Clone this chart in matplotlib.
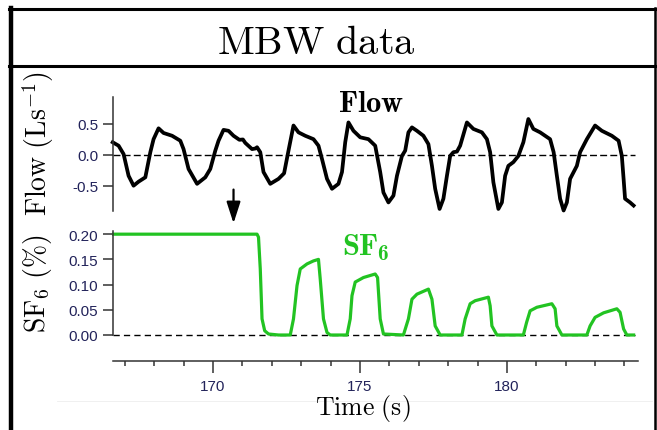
import matplotlib
matplotlib.use("Agg")
import matplotlib.pyplot as plt
from matplotlib.lines import Line2D
from matplotlib.ticker import FixedLocator, FixedFormatter, MultipleLocator

plt.rcParams["mathtext.fontset"] = "cm"

# flow trace (L/s)
flow_t = [166.59, 166.79, 166.96, 167.13, 167.30, 167.47, 167.70, 167.87, 167.98, 168.15,
          168.32, 168.61, 168.89, 169.00, 169.17, 169.46, 169.74, 169.91, 170.08, 170.19,
          170.36, 170.53, 170.70, 170.90, 171.02, 171.10, 171.33, 171.45, 171.50, 171.61,
          171.72, 171.95, 172.23, 172.42, 172.57, 172.74, 172.91, 173.14, 173.42, 173.59,
          173.71, 173.88, 174.05, 174.27, 174.39, 174.50, 174.61, 174.78, 175.01, 175.29,
          175.52, 175.69, 175.80, 175.97, 176.14, 176.26, 176.43, 176.54, 176.65, 176.77,
          176.94, 177.16, 177.33, 177.45, 177.56, 177.71, 177.84, 177.96, 178.07, 178.18,
          178.30, 178.41, 178.64, 178.86, 179.15, 179.32, 179.43, 179.54, 179.71, 179.83,
          179.94, 180.05, 180.22, 180.39, 180.56, 180.73, 180.90, 181.13, 181.47, 181.59,
          181.70, 181.81, 181.93, 182.04, 182.15, 182.38, 182.49, 182.72, 183.00, 183.23,
          183.57, 183.80, 183.91, 183.97, 184.02, 184.19, 184.31]
flow_v = [0.20, 0.145, 0.01, -0.34, -0.50, -0.435, -0.365, 0.04, 0.25, 0.425,
          0.35, 0.305, 0.225, 0.09, -0.23, -0.47, -0.365, -0.23, 0.065, 0.225,
          0.40, 0.385, 0.305, 0.24, 0.245, 0.19, 0.09, 0.10, 0.12, 0.04,
          -0.28, -0.47, -0.39, -0.30, 0.065, 0.47, 0.36, 0.305, 0.25, 0.145,
          -0.07, -0.39, -0.55, -0.47, -0.28, 0.20, 0.52, 0.385, 0.28, 0.25,
          0.145, -0.28, -0.61, -0.77, -0.66, -0.34, -0.02, 0.065, 0.36, 0.44,
          0.385, 0.305, 0.17, -0.18, -0.55, -0.875, -0.71, -0.34, -0.02, 0.04,
          0.05, 0.145, 0.52, 0.415, 0.36, 0.25, 0.04, -0.445, -0.875, -0.77,
          -0.34, -0.18, -0.12, -0.02, 0.20, 0.575, 0.415, 0.36, 0.25, 0.04,
          -0.34, -0.71, -0.90, -0.77, -0.39, -0.18, 0.04, 0.25, 0.47, 0.385,
          0.305, 0.225, -0.02, -0.39, -0.71, -0.77, -0.82]

# SF6 concentration (%)
sf6_t = [166.62, 171.50, 171.55, 171.61, 171.67, 171.76, 171.89, 172.23, 172.63, 172.74,
         172.86, 172.97, 173.20, 173.42, 173.59, 173.65, 173.76, 173.88, 173.99, 174.56,
         174.67, 174.73, 174.84, 175.12, 175.52, 175.60, 175.69, 175.80, 176.48, 176.65,
         176.77, 176.94, 177.33, 177.45, 177.56, 177.73, 178.47, 178.58, 178.75, 178.92,
         179.37, 179.43, 179.49, 179.66, 180.56, 180.67, 180.79, 181.02, 181.53, 181.64,
         181.70, 181.87, 182.72, 182.83, 183.00, 183.29, 183.74, 183.85, 183.97, 184.08,
         184.31]
sf6_v = [0.200, 0.200, 0.194, 0.131, 0.032, 0.0085, 0.002, 0.0, 0.0, 0.032,
         0.098, 0.131, 0.141, 0.147, 0.150, 0.111, 0.032, 0.005, 0.0, 0.0,
         0.032, 0.078, 0.105, 0.114, 0.121, 0.114, 0.032, 0.002, 0.0, 0.032,
         0.071, 0.081, 0.091, 0.071, 0.018, 0.0, 0.0, 0.032, 0.062, 0.068,
         0.075, 0.058, 0.018, 0.0, 0.0, 0.025, 0.048, 0.055, 0.062, 0.052,
         0.018, 0.0, 0.0, 0.018, 0.035, 0.044, 0.052, 0.045, 0.012, 0.0,
         0.0]

flow_ticks = [-0.5, 0.0, 0.5]
flow_ticklabels = ["-0.5", "0.0", "0.5"]
sf6_ticks = [0.0, 0.05, 0.10, 0.15, 0.20]
sf6_ticklabels = ["0.00", "0.05", "0.10", "0.15", "0.20"]
time_ticks = [170, 175, 180]
time_ticklabels = ["170", "175", "180"]
t_range = (166.6, 184.46)
arrow_t = 170.7

W, H = 657, 431
GREEN = "#22c322"
TICKCOL = "#22235a"
SPINE = "#333333"


def box(l, t, r, b):
    return [l / W, 1 - b / H, (r - l) / W, (b - t) / H]


def fx(x):
    return x / W


def fy(y):
    return 1 - y / H


fig = plt.figure(figsize=(W / 100, H / 100), dpi=100)

tick_font = dict(family="Liberation Sans", size=11, color=TICKCOL)

# flow panel
ax1 = fig.add_axes(box(113, 98, 638, 212))
ax1.plot(flow_t, flow_v, color="black", lw=2.7, clip_on=False, solid_joinstyle="round")
ax1.axhline(0, color="black", lw=1.0, ls=(0, (5, 2.3)), xmin=0, xmax=0.995, clip_on=False)
ax1.set_xlim(*t_range)
ax1.set_ylim(-0.908, 0.93)

# SF6 panel
ax2 = fig.add_axes(box(113, 232, 638, 336))
ax2.axhline(0, color="black", lw=1.0, ls=(0, (4.5, 3)), xmin=0, xmax=0.995, clip_on=False)
ax2.plot(sf6_t, sf6_v, color=GREEN, lw=2.3, clip_on=False, solid_joinstyle="round")
ax2.set_xlim(*t_range)
ax2.set_ylim(0, 0.2063)

for ax, ticks, labels in [(ax1, flow_ticks, flow_ticklabels), (ax2, sf6_ticks, sf6_ticklabels)]:
    for s in ["top", "right", "bottom"]:
        ax.spines[s].set_visible(False)
    ax.spines["left"].set_color(SPINE)
    ax.spines["left"].set_linewidth(1.1)
    ax.set_facecolor("none")
    ax.set_xticks([])
    ax.yaxis.set_major_locator(FixedLocator(ticks))
    ax.yaxis.set_major_formatter(FixedFormatter(labels))
    ax.tick_params(axis="y", direction="out", length=7.2, width=1.1, color=SPINE, pad=3.5)
    for lab in ax.get_yticklabels():
        lab.set(**tick_font)

# time axis
ax3 = fig.add_axes(box(113, 340, 638, 361.7))
ax3.set_facecolor("none")
for s in ["top", "right", "left"]:
    ax3.spines[s].set_visible(False)
ax3.spines["bottom"].set_color(SPINE)
ax3.spines["bottom"].set_linewidth(1.1)
ax3.set_yticks([])
ax3.set_xlim(*t_range)
ax3.xaxis.set_major_locator(FixedLocator(time_ticks))
ax3.xaxis.set_major_formatter(FixedFormatter(time_ticklabels))
ax3.xaxis.set_minor_locator(MultipleLocator(1))
ax3.tick_params(axis="x", which="major", direction="out", length=8.4, width=1.1, color=SPINE, pad=5)
ax3.tick_params(axis="x", which="minor", direction="out", length=3.6, width=1.1, color=SPINE)
for lab in ax3.get_xticklabels():
    lab.set(**tick_font)

# arrow marking the washout start
ax2.annotate("", xy=(arrow_t, 0.216), xytext=(arrow_t, 0.294),
             arrowprops=dict(arrowstyle="-|>,head_length=1.3,head_width=0.42",
                             color="black", lw=1.6, mutation_scale=10),
             annotation_clip=False)

# texts
fig.text(fx(316), fy(43), r"$\mathrm{MBW\ data}$", fontsize=29, ha="center", va="center")
fig.text(fx(38), fy(144), r"$\mathrm{Flow\ (Ls^{-1})}$", fontsize=20, rotation=90,
         ha="center", va="center")
fig.text(fx(38), fy(284), r"$\mathrm{SF_6\ (\%)}$", fontsize=20, rotation=90,
         ha="center", va="center")
fig.text(fx(371), fy(104), r"$\mathbf{Flow}$", fontsize=22, ha="center", va="center")
# bold SF6 with a bold subscript, done as two pieces in cmb10
fig.text(fx(342), fy(255), "SF", family="cmb10", fontsize=22, ha="left", va="baseline",
         color=GREEN)
fig.text(fx(377), fy(260.5), "6", family="cmb10", fontsize=15.5, ha="left", va="baseline",
         color=GREEN)
fig.text(fx(363), fy(409), r"$\mathrm{Time\ (s)}$", fontsize=18.5, ha="center", va="center")

# frame around the panel
def fline(x0, y0, x1, y1, lw, color="black"):
    fig.add_artist(Line2D([fx(x0), fx(x1)], [fy(y0), fy(y1)], transform=fig.transFigure,
                          lw=lw, color=color, solid_capstyle="projecting"))

fline(11, 9, 11, 431, 3.2)
fline(9, 9.5, 654.5, 9.5, 2.2)
fline(9, 66.5, 654.5, 66.5, 2.2)
fline(654.5, 9, 654.5, 431, 1.8)
fline(57, 402, 652, 402, 0.6, "#eeeeee")

fig.savefig("out.png", dpi=100)
